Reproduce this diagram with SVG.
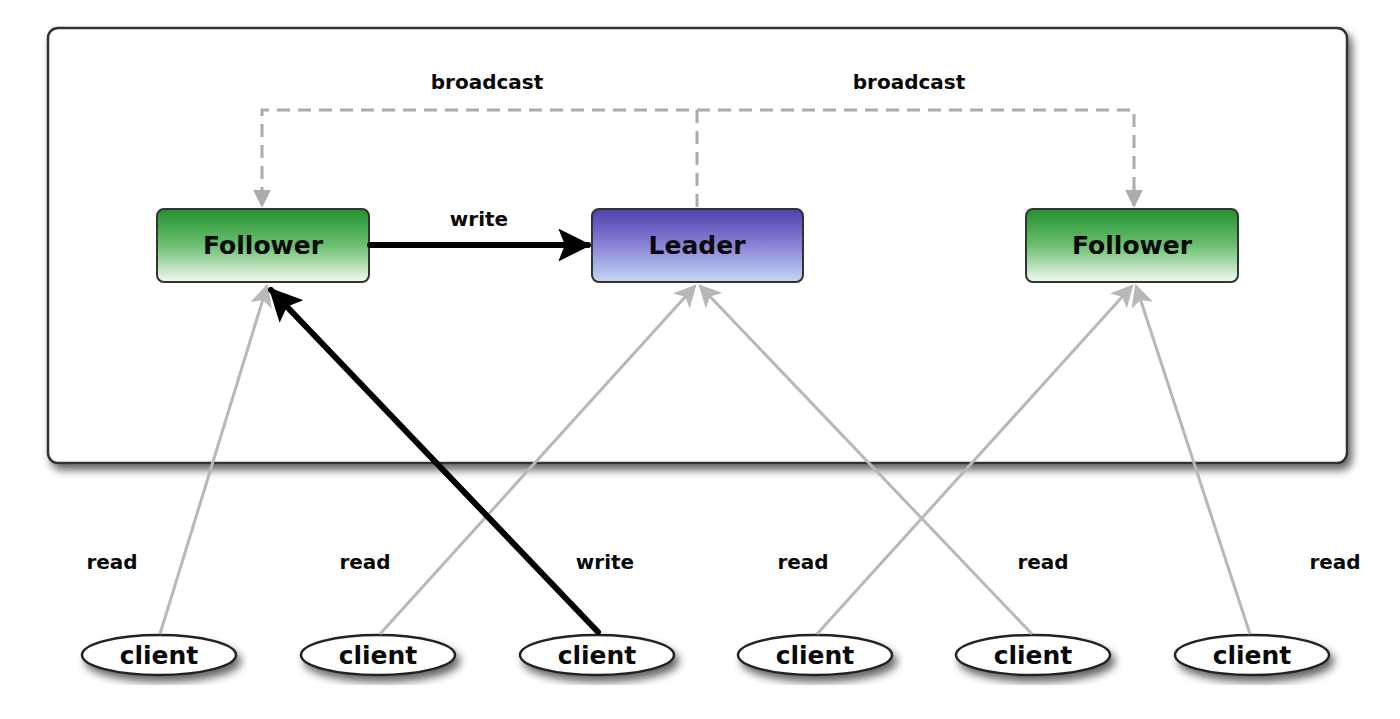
<svg xmlns="http://www.w3.org/2000/svg" width="1400" height="719" viewBox="0 0 1400 719">
<defs>
  <linearGradient id="gGreen" x1="0" y1="0" x2="0" y2="1">
    <stop offset="0" stop-color="#23912f"/>
    <stop offset="0.5" stop-color="#6cbf70"/>
    <stop offset="1" stop-color="#f2faf0"/>
  </linearGradient>
  <linearGradient id="gBlue" x1="0" y1="0" x2="0" y2="1">
    <stop offset="0" stop-color="#4f3fae"/>
    <stop offset="0.5" stop-color="#8884d6"/>
    <stop offset="1" stop-color="#c4d8f2"/>
  </linearGradient>
  <filter id="shadow" x="-10%" y="-10%" width="125%" height="135%">
    <feGaussianBlur in="SourceAlpha" stdDeviation="4"/>
    <feOffset dx="4" dy="6" result="b"/>
    <feComponentTransfer><feFuncA type="linear" slope="0.6"/></feComponentTransfer>
    <feMerge><feMergeNode/><feMergeNode in="SourceGraphic"/></feMerge>
  </filter>
  <marker id="arrGray" viewBox="0 0 10 10" refX="9" refY="5" markerWidth="7.5" markerHeight="7.5" markerUnits="strokeWidth" orient="auto">
    <path d="M0,0 L10,5 L0,10 L2.5,5 z" fill="#b8b8b8"/>
  </marker>
  <marker id="arrDash" viewBox="0 0 10 10" refX="9" refY="5" markerWidth="6" markerHeight="6" markerUnits="strokeWidth" orient="auto">
    <path d="M0,0 L10,5 L0,10 z" fill="#ababab"/>
  </marker>
  <marker id="arrBlack" viewBox="0 0 10 10" refX="9" refY="5" markerWidth="5.5" markerHeight="5.5" markerUnits="strokeWidth" orient="auto">
    <path d="M0,0 L10,5 L0,10 L2,5 z" fill="#000"/>
  </marker>
</defs>
<style>
  text { font-family: "DejaVu Sans", "Liberation Sans", sans-serif; font-weight: bold; fill: #0a0a0a; text-anchor: middle; }
  .node { font-size: 25px; }
  .cl { font-size: 25px; }
  .lbl { font-size: 20px; }
  .nodebox { stroke: #333; stroke-width: 2; }
  .read { stroke: #b8b8b8; stroke-width: 3; fill: none; }
  .bc { stroke: #ababab; stroke-width: 3; fill: none; stroke-dasharray: 13 8; }
  .wr { stroke: #000; stroke-width: 6; fill: none; stroke-linecap: round; }
  .client { fill: #fff; stroke: #222; stroke-width: 2.5; }
</style>

<g id="cluster">
  <rect x="48" y="28" width="1299" height="435" rx="10" ry="10" fill="#fff" stroke="#333" stroke-width="2.5" filter="url(#shadow)"/>
</g>

<g id="follower-left">
  <rect class="nodebox" x="157" y="209" width="212" height="73" rx="7" ry="7" fill="url(#gGreen)"/>
  <text class="node" x="263" y="254">Follower</text>
</g>
<g id="leader">
  <rect class="nodebox" x="592" y="209" width="211" height="73" rx="7" ry="7" fill="url(#gBlue)"/>
  <text class="node" x="697" y="254">Leader</text>
</g>
<g id="follower-right">
  <rect class="nodebox" x="1026" y="209" width="212" height="73" rx="7" ry="7" fill="url(#gGreen)"/>
  <text class="node" x="1132" y="254">Follower</text>
</g>

<g id="client1"><ellipse class="client" cx="159" cy="655" rx="77" ry="20" filter="url(#shadow)"/><text class="cl" x="159" y="664">client</text></g>
<g id="client2"><ellipse class="client" cx="378" cy="655" rx="77" ry="20" filter="url(#shadow)"/><text class="cl" x="378" y="664">client</text></g>
<g id="client3"><ellipse class="client" cx="597" cy="655" rx="77" ry="20" filter="url(#shadow)"/><text class="cl" x="597" y="664">client</text></g>
<g id="client4"><ellipse class="client" cx="815" cy="655" rx="77" ry="20" filter="url(#shadow)"/><text class="cl" x="815" y="664">client</text></g>
<g id="client5"><ellipse class="client" cx="1033" cy="655" rx="77" ry="20" filter="url(#shadow)"/><text class="cl" x="1033" y="664">client</text></g>
<g id="client6"><ellipse class="client" cx="1252" cy="655" rx="77" ry="20" filter="url(#shadow)"/><text class="cl" x="1252" y="664">client</text></g>

<g id="connectors">
  <path class="bc" d="M697,207 V110 H262 V206" marker-end="url(#arrDash)"/>
  <path class="bc" d="M697,110 H1134 V206" marker-end="url(#arrDash)"/>
  <line class="wr" x1="370" y1="245" x2="588" y2="245" marker-end="url(#arrBlack)"/>
  <line class="read" x1="160" y1="634" x2="267" y2="286" marker-end="url(#arrGray)"/>
  <line class="read" x1="380" y1="634" x2="695" y2="286" marker-end="url(#arrGray)"/>
  <line class="read" x1="1032" y1="634" x2="700" y2="286" marker-end="url(#arrGray)"/>
  <line class="read" x1="817" y1="634" x2="1132" y2="286" marker-end="url(#arrGray)"/>
  <line class="read" x1="1250" y1="634" x2="1136" y2="286" marker-end="url(#arrGray)"/>
  <line class="wr" x1="598" y1="632" x2="271" y2="290" marker-end="url(#arrBlack)"/>
</g>

<g id="labels">
  <text class="lbl" x="487" y="89">broadcast</text>
  <text class="lbl" x="909" y="89">broadcast</text>
  <text class="lbl" x="479" y="226">write</text>
  <text class="lbl" x="112" y="569">read</text>
  <text class="lbl" x="365" y="569">read</text>
  <text class="lbl" x="605" y="569">write</text>
  <text class="lbl" x="803" y="569">read</text>
  <text class="lbl" x="1043" y="569">read</text>
  <text class="lbl" x="1335" y="569">read</text>
</g>
</svg>
